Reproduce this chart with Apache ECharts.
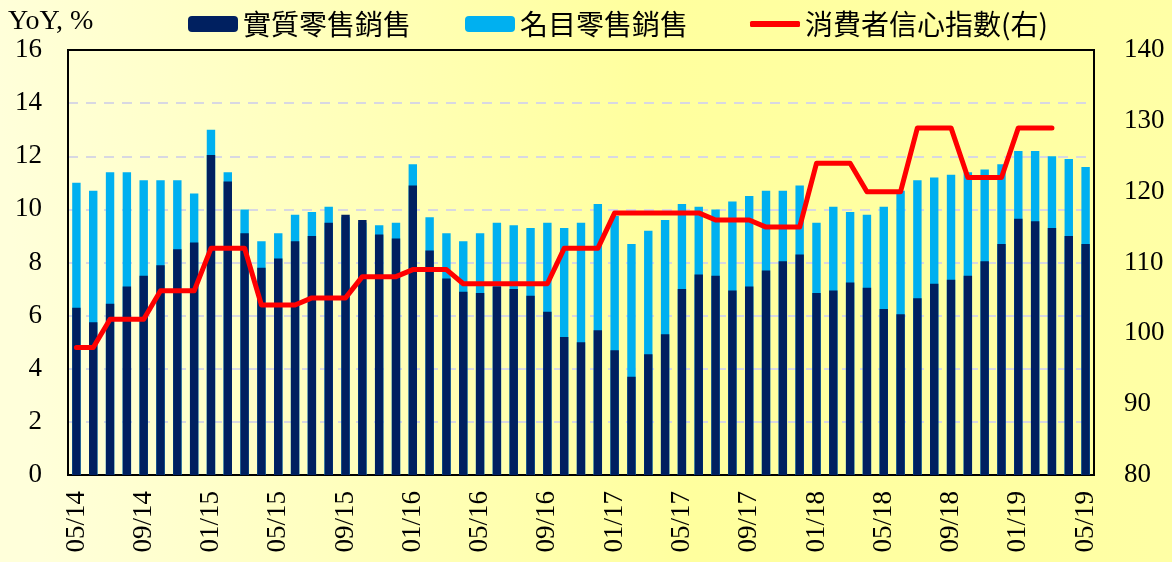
<!DOCTYPE html>
<html>
<head>
<meta charset="utf-8">
<script src="https://cdn.jsdelivr.net/npm/echarts@6/dist/echarts.min.js"></script>
<style>
  html, body { margin: 0; padding: 0; }
  #chart { width: 1172px; height: 562px; }
</style>
</head>
<body>
<div id="chart"></div>
<script>
var months = [
  '05/14', '06/14', '07/14', '08/14', '09/14', '10/14', '11/14', '12/14',
  '01/15', '02/15', '03/15', '04/15', '05/15', '06/15', '07/15', '08/15', '09/15', '10/15', '11/15', '12/15',
  '01/16', '02/16', '03/16', '04/16', '05/16', '06/16', '07/16', '08/16', '09/16', '10/16', '11/16', '12/16',
  '01/17', '02/17', '03/17', '04/17', '05/17', '06/17', '07/17', '08/17', '09/17', '10/17', '11/17', '12/17',
  '01/18', '02/18', '03/18', '04/18', '05/18', '06/18', '07/18', '08/18', '09/18', '10/18', '11/18', '12/18',
  '01/19', '02/19', '03/19', '04/19', '05/19'
]
// 實質零售銷售 YoY %
var realSales = [
  6.3, 5.75, 6.45, 7.1, 7.5, 7.9, 8.5, 8.75,
  12.05, 11.05, 9.1, 7.8, 8.15, 8.8, 9.0, 9.5, 9.8, 9.6, 9.05, 8.9,
  10.9, 8.45, 7.4, 6.9, 6.85, 7.1, 7.0, 6.75, 6.15, 5.2, 5.0, 5.45,
  4.7, 3.7, 4.55, 5.3, 7.0, 7.55, 7.5, 6.95, 7.1, 7.7, 8.05, 8.3,
  6.85, 6.95, 7.25, 7.05, 6.25, 6.05, 6.65, 7.2, 7.35, 7.5, 8.05, 8.7,
  9.65, 9.55, 9.3, 9.0, 8.7
]
// 名目零售銷售 YoY %
var nominalSales = [
  11.0, 10.7, 11.4, 11.4, 11.1, 11.1, 11.1, 10.6,
  13.0, 11.4, 10.0, 8.8, 9.1, 9.8, 9.9, 10.1, 9.7, 9.5, 9.4, 9.5,
  11.7, 9.7, 9.1, 8.8, 9.1, 9.5, 9.4, 9.3, 9.5, 9.3, 9.5, 10.2,
  9.75, 8.7, 9.2, 9.6, 10.2, 10.1, 10.0, 10.3, 10.5, 10.7, 10.7, 10.9,
  9.5, 10.1, 9.9, 9.8, 10.1, 10.7, 11.1, 11.2, 11.3, 11.4, 11.5, 11.7,
  12.2, 12.2, 12.0, 11.9, 11.6
]
// 消費者信心指數 (right axis)
var confidence = [
  98, 98, 102, 102, 102, 106, 106, 106,
  112, 112, 112, 104, 104, 104, 105, 105, 105, 108, 108, 108,
  109, 109, 109, 107, 107, 107, 107, 107, 107, 112, 112, 112,
  117, 117, 117, 117, 117, 117, 116, 116, 116, 115, 115, 115,
  124, 124, 124, 120, 120, 120, 129, 129, 129, 122, 122, 122,
  129, 129, 129, null, null
]

var serif = 'Liberation Serif'
var cjk = 'Noto Sans CJK TC'

var myChart = echarts.init(document.getElementById('chart'))

var legendText = { fontFamily: cjk, fontSize: 28, color: '#000' }

var option = {
  animation: false,
  backgroundColor: new echarts.graphic.LinearGradient(0, 0.2, 1, 0, [
    { offset: 0, color: '#FFFFDA' },
    { offset: 0.55, color: '#FFFF9E' },
    { offset: 1, color: '#FFFFA6' }
  ]),
  title: {
    text: 'YoY, %',
    left: 3,
    top: 3,
    textStyle: { fontFamily: serif, fontSize: 28, fontWeight: 'normal', color: '#000' }
  },
  legend: [
    {
      left: 183, top: 5, itemWidth: 50, itemHeight: 16,
      data: ['實質零售銷售'], textStyle: legendText
    },
    {
      left: 460, top: 5, itemWidth: 50, itemHeight: 16,
      data: ['名目零售銷售'], textStyle: legendText
    },
    {
      left: 745, top: 5, itemWidth: 50, itemHeight: 6,
      icon: 'roundRect',
      data: ['消費者信心指數(右)'], textStyle: legendText
    }
  ],
  grid: {
    left: 68,
    right: 78,
    top: 50,
    bottom: 87,
    show: true,
    borderColor: '#000',
    borderWidth: 2,
    backgroundColor: 'transparent'
  },
  xAxis: {
    type: 'category',
    data: months,
    axisLine: { lineStyle: { color: '#000', width: 2 } },
    axisTick: { show: false },
    axisLabel: {
      interval: 3,
      rotate: 90,
      margin: 16,
      fontFamily: serif,
      fontSize: 27,
      color: '#000'
    }
  },
  yAxis: [
    {
      type: 'value',
      min: 0,
      max: 16,
      interval: 2,
      axisLine: { show: true, lineStyle: { color: '#000', width: 2 } },
      axisTick: { show: false },
      axisLabel: { margin: 26, fontFamily: serif, fontSize: 27, color: '#000' },
      splitLine: {
        showMinLine: false,
        showMaxLine: false,
        lineStyle: { color: '#D8D8E2', width: 2, type: [10, 8] }
      }
    },
    {
      type: 'value',
      min: 80,
      max: 140,
      interval: 10,
      axisLine: { show: true, lineStyle: { color: '#000', width: 2 } },
      axisTick: { show: false },
      axisLabel: { margin: 30, fontFamily: serif, fontSize: 27, color: '#000' },
      splitLine: { show: false }
    }
  ],
  series: [
    {
      name: '名目零售銷售',
      type: 'bar',
      data: nominalSales,
      barWidth: '50%',
      barGap: '-100%',
      itemStyle: { color: '#00B0F0' }
    },
    {
      name: '實質零售銷售',
      type: 'bar',
      data: realSales,
      barWidth: '50%',
      barGap: '-100%',
      itemStyle: { color: '#002060' }
    },
    {
      name: '消費者信心指數(右)',
      type: 'line',
      yAxisIndex: 1,
      data: confidence,
      symbol: 'none',
      z: 5,
      lineStyle: { color: '#FF0000', width: 5, cap: 'round', join: 'round' },
      itemStyle: { color: '#FF0000' }
    }
  ]
}

option && myChart.setOption(option)
</script>
</body>
</html>
